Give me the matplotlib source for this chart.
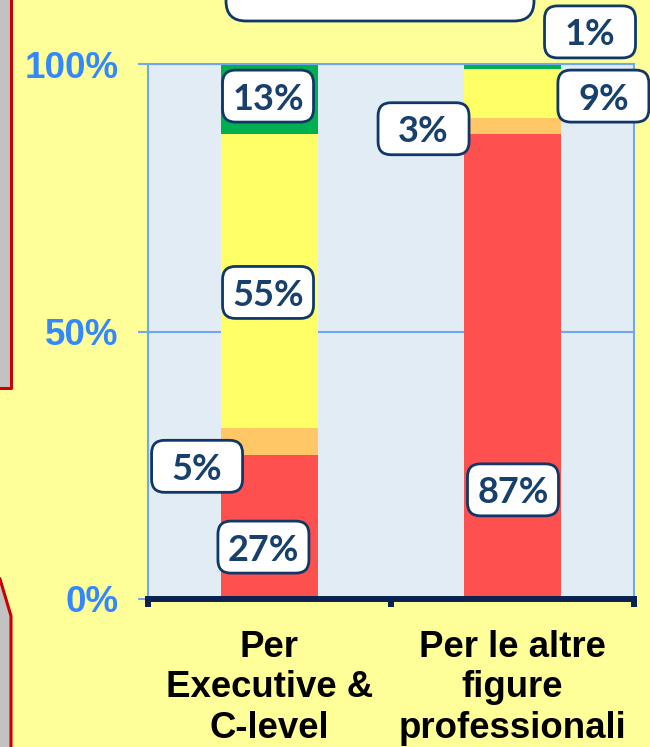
import matplotlib
matplotlib.use("Agg")
import matplotlib.pyplot as plt
import matplotlib.transforms as mtransforms
from matplotlib.patches import FancyBboxPatch, Polygon
from matplotlib.lines import Line2D

# ---- data -------------------------------------------------------------
categories = ["Per\nExecutive &\nC-level", "Per le altre\nfigure\nprofessionali"]
segment_names = ["red", "orange", "yellow", "green"]
red_vals = [27, 87]
orange_vals = [5, 3]
yellow_vals = [55, 9]
green_vals = [13, 1]
y_ticks = [0, 50, 100]
y_tick_labels = ["0%", "50%", "100%"]

# ---- styling / layout -------------------------------------------------
seg_colors = {"red": "#FF5050", "orange": "#FFC766",
              "yellow": "#FFFF66", "green": "#00B050"}
fig_bg = "#FFFF99"
plot_bg = "#E1ECF4"
axis_blue = "#6FA8F0"
tick_blue = "#3388FF"
navy = "#0B2150"
box_edge = "#0F3868"
box_text = "#17406D"

# where each value badge sits (data coords of the badge centre)
badge_pos = {
    (0, "red"): (-0.025, 9.7),
    (0, "orange"): (-0.298, 24.8),
    (0, "yellow"): (-0.006, 57.3),
    (0, "green"): (-0.006, 94.0),
    (1, "red"): (1.002, 20.4),
    (1, "orange"): (0.634, 87.9),
    (1, "yellow"): (1.374, 94.0),
    (1, "green"): (1.319, 106.0),
}
badge_w, badge_h, badge_r = 0.91, 0.52, 0.13  # inches

W, H = 650, 747
fig = plt.figure(figsize=(W / 100, H / 100), dpi=100, facecolor=fig_bg)
ax = fig.add_axes([148 / W, (H - 599) / H, 486 / W, (599 - 64) / H])
ax.set_facecolor(plot_bg)

series = {"red": red_vals, "orange": orange_vals,
          "yellow": yellow_vals, "green": green_vals}
x = list(range(len(categories)))
bottom = [0] * len(categories)
for name in segment_names:
    vals = series[name]
    ax.bar(x, vals, width=0.4, bottom=bottom, color=seg_colors[name],
           linewidth=0, zorder=2)
    bottom = [b + v for b, v in zip(bottom, vals)]

ax.set_xlim(-0.5, len(categories) - 0.5)
ax.set_ylim(0, 100)

# gridlines and spines
ax.set_yticks(y_ticks, y_tick_labels)
ax.yaxis.grid(True, color=axis_blue, linewidth=1.5, zorder=1)
ax.set_axisbelow(True)
for side in ("left", "right", "top"):
    ax.spines[side].set_color(axis_blue)
    ax.spines[side].set_linewidth(1.5)
ax.spines["bottom"].set_color(navy)
ax.spines["bottom"].set_linewidth(4.3)
ax.spines["bottom"].set_zorder(4)

ax.tick_params(axis="y", length=7.2, width=1.5, color=axis_blue, pad=14,
               labelcolor=tick_blue, labelsize=26.5)
for lab in ax.get_yticklabels():
    lab.set_fontfamily("Liberation Sans")
    lab.set_fontweight("bold")

# category separators on the baseline, category names as minor ticks
ax.set_xticks([i - 0.5 for i in range(len(categories) + 1)])
ax.set_xticklabels([])
ax.tick_params(axis="x", which="major", length=5.5, width=4.3, color=navy,
               direction="out")
ax.set_xticks(x, categories, minor=True)
ax.tick_params(axis="x", which="minor", length=0, pad=22, labelsize=26.4)
for lab in ax.get_xticklabels(minor=True):
    lab.set_fontfamily("Liberation Sans")
    lab.set_fontweight("bold")
    lab.set_linespacing(1.22)
    lab.set_color("black")

# value badges
for i in range(len(categories)):
    for name in segment_names:
        v = series[name][i]
        bx, by = badge_pos[(i, name)]
        tr = fig.dpi_scale_trans + mtransforms.ScaledTranslation(bx, by, ax.transData)
        patch = FancyBboxPatch((-badge_w / 2, -badge_h / 2), badge_w, badge_h,
                               boxstyle=f"round,pad=0,rounding_size={badge_r}",
                               transform=tr, facecolor="white",
                               edgecolor=box_edge, linewidth=2.0,
                               clip_on=False, zorder=5)
        ax.add_artist(patch)
        ax.text(bx, by, f"{v}%", ha="center", va="center_baseline",
                fontsize=26, fontweight="bold", family=["Lato", "DejaVu Sans"],
                color=box_text, zorder=6, clip_on=False)

# title box peeking in at the top
inch = fig.dpi_scale_trans
top_box = FancyBboxPatch((2.26, (H - 21) / 100), 3.08, 1.0,
                         boxstyle="round,pad=0,rounding_size=0.2",
                         transform=inch, facecolor="white", edgecolor=box_edge,
                         linewidth=2.0, clip_on=False, zorder=5)
fig.add_artist(top_box)

# callout shape at the left border
grey = "#C2C2C2"
red_edge = "#CC0000"
upper = Polygon([(0, (H - 389) / 100), (0.11, (H - 389) / 100),
                 (0.11, 7.6), (0, 7.6)], closed=True, transform=inch,
                facecolor=grey, edgecolor="none")
lower = Polygon([(0, (H - 579) / 100), (0.115, (H - 616) / 100),
                 (0.115, -0.1), (0, -0.1)], closed=True, transform=inch,
                facecolor=grey, edgecolor="none")
fig.add_artist(upper)
fig.add_artist(lower)
fig.add_artist(Line2D([0, 0.105, 0.105], [(H - 388) / 100, (H - 388) / 100, 7.6],
                      transform=inch, color=red_edge, linewidth=2.2))
fig.add_artist(Line2D([0, 0.11, 0.11], [(H - 579) / 100, (H - 616) / 100, -0.1],
                      transform=inch, color=red_edge, linewidth=2.2))

fig.savefig("out.png", dpi=100, facecolor=fig_bg)
